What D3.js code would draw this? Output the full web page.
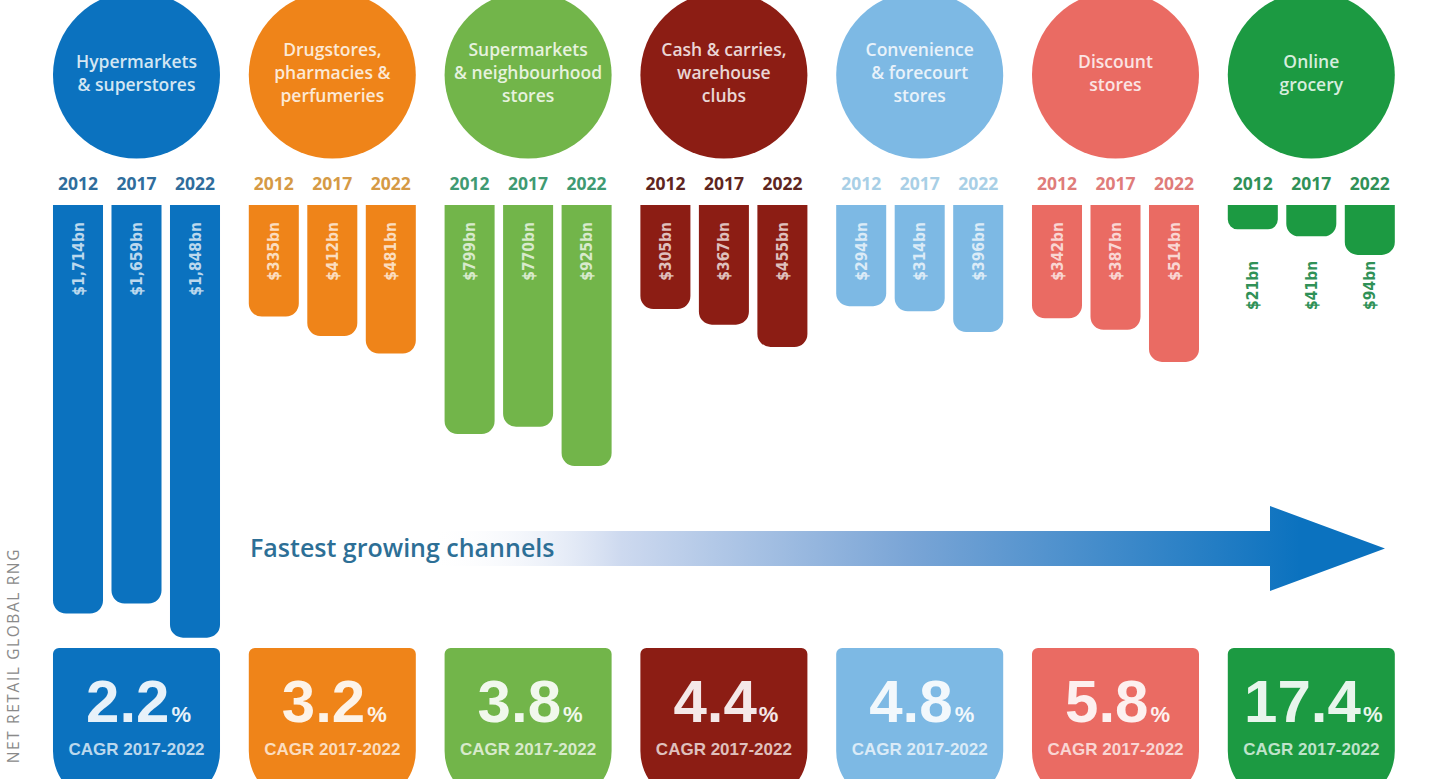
<!DOCTYPE html>
<html>
<head>
<meta charset="utf-8">
<script src="https://cdnjs.cloudflare.com/ajax/libs/d3/7.8.5/d3.min.js"></script>
<style>
  html, body { margin: 0; padding: 0; background: #fff; }
  svg { display: block; }
</style>
</head>
<body>
<div id="chart"></div>
<script>
// Channels and their sales (US$ bn) by year
const channels = ["Hypermarkets & superstores", "Drugstores, pharmacies & perfumeries",
  "Supermarkets & neighbourhood stores", "Cash & carries, warehouse clubs",
  "Convenience & forecourt stores", "Discount stores", "Online grocery"];
const channelLines = [
  ["Hypermarkets", "& superstores"],
  ["Drugstores,", "pharmacies &", "perfumeries"],
  ["Supermarkets", "& neighbourhood", "stores"],
  ["Cash & carries,", "warehouse", "clubs"],
  ["Convenience", "& forecourt", "stores"],
  ["Discount", "stores"],
  ["Online", "grocery"]
];
const years = ["2012", "2017", "2022"];
const sales2012 = [1714, 335, 799, 305, 294, 342, 21];
const sales2017 = [1659, 412, 770, 367, 314, 387, 41];
const sales2022 = [1848, 481, 925, 455, 396, 514, 94];
const cagr = ["2.2", "3.2", "3.8", "4.4", "4.8", "5.8", "17.4"];
const cagrLabel = "CAGR 2017-2022";

// Palette
const colors = ["#0b72bf", "#ef8419", "#72b54a", "#8c1d14", "#7db9e4", "#ea6b63", "#1c9a42"];
const yearColors = ["#2f6d9c", "#d59a45", "#3f9a72", "#5e2520", "#a8cfe6", "#df7c7a", "#2f9157"];

const width = 1440;
const height = 779;

const svg = d3.select("#chart")
  .append("svg")
  .attr("width", width)
  .attr("height", height);

// Group and year scales
const xGroup = d3.scaleBand()
  .domain(channels)
  .range([38.6, 1409.2])
  .paddingInner(0.147)
  .paddingOuter(0.0735);
const xYear = d3.scaleBand()
  .domain(years)
  .range([0, xGroup.bandwidth()])
  .paddingInner(0.145);

// Bars hang down from a baseline; the original is not drawn to a single linear scale
const barTop = 205;
const yScale = d3.scaleLinear()
  .domain([0, 20, 100, 1000, 2000])
  .range([0, 24, 52, 280, 460]);

const tint = (c, t) => d3.interpolateRgb(c, "#ffffff")(t);
const fmt = v => "$" + d3.format(",")(v) + "bn";

const rows = channels.map((c, i) => ({
  channel: c,
  i: i,
  values: [sales2012[i], sales2017[i], sales2022[i]]
}));

// Bar with flat top and rounded bottom corners
function barPath(x, y, w, h, r) {
  r = Math.min(r, h / 2.5, w / 2);
  const p = d3.path();
  p.moveTo(x, y);
  p.lineTo(x + w, y);
  p.lineTo(x + w, y + h - r);
  p.arcTo(x + w, y + h, x + w - r, y + h, r);
  p.lineTo(x + r, y + h);
  p.arcTo(x, y + h, x, y + h - r, r);
  p.closePath();
  return p.toString();
}

// Shield-shaped CAGR box
function boxPath(x, y, w, h, rt, rb) {
  const p = d3.path();
  p.moveTo(x + rt, y);
  p.lineTo(x + w - rt, y);
  p.arcTo(x + w, y, x + w, y + rt, rt);
  p.lineTo(x + w, y + h - rb);
  p.arcTo(x + w, y + h, x + w - rb, y + h, rb);
  p.lineTo(x + rb, y + h);
  p.arcTo(x, y + h, x, y + h - rb, rb);
  p.lineTo(x, y + rt);
  p.arcTo(x, y, x + rt, y, rt);
  p.closePath();
  return p.toString();
}

const groups = svg.selectAll(".channel")
  .data(rows)
  .join("g")
  .attr("class", "channel")
  .attr("transform", d => `translate(${xGroup(d.channel)},0)`);

// Circles with channel names
const cx = xGroup.bandwidth() / 2;
groups.append("circle")
  .attr("cx", cx)
  .attr("cy", 75)
  .attr("r", xGroup.bandwidth() / 2)
  .attr("fill", d => colors[d.i]);

groups.each(function(d) {
  const lines = channelLines[d.i];
  const lh = 23;
  const y0 = 73 - (lines.length - 1) * lh / 2;
  d3.select(this).append("text")
    .attr("text-anchor", "middle")
    .attr("font-family", "Open Sans, sans-serif")
    .attr("font-weight", 600)
    .attr("font-size", 17.5)
    .attr("fill", tint(colors[d.i], 0.82))
    .selectAll("tspan")
    .data(lines)
    .join("tspan")
    .attr("x", cx)
    .attr("y", (l, k) => y0 + k * lh)
    .attr("dy", "0.35em")
    .text(l => l);
});

// Year labels
groups.selectAll(".year")
  .data(d => years.map(y => ({ year: y, i: d.i })))
  .join("text")
  .attr("class", "year")
  .attr("x", d => xYear(d.year) + xYear.bandwidth() / 2)
  .attr("y", 190)
  .attr("text-anchor", "middle")
  .attr("font-family", "Open Sans, sans-serif")
  .attr("font-weight", 700)
  .attr("font-size", 17.5)
  .attr("fill", d => yearColors[d.i])
  .text(d => d.year);

// Bars
const barData = d => d.values.map((v, k) => ({ v: v, year: years[k], i: d.i, maxV: d3.max(d.values) }));

groups.selectAll(".bar")
  .data(barData)
  .join("path")
  .attr("class", "bar")
  .attr("d", d => barPath(xYear(d.year), barTop, xYear.bandwidth(), yScale(d.v), 13))
  .attr("fill", d => colors[d.i]);

// Value labels, rotated; inside tall bars, below short ones
groups.selectAll(".val")
  .data(barData)
  .join("text")
  .attr("class", "val")
  .attr("transform", d => {
    const x = xYear(d.year) + xYear.bandwidth() / 2;
    const inside = yScale(d.maxV) > 80;
    const y = inside ? barTop + 17 : barTop + yScale(d.maxV) + 6;
    return `translate(${x},${y}) rotate(-90)`;
  })
  .attr("dy", "0.36em")
  .attr("text-anchor", "end")
  .attr("font-family", "DejaVu Sans Condensed, sans-serif")
  .attr("font-weight", 700)
  .attr("font-size", 15.5)
  .attr("fill", d => yScale(d.maxV) > 80 ? tint(colors[d.i], 0.72) : yearColors[d.i])
  .text(d => fmt(d.v));

// Fastest growing channels arrow
const defs = svg.append("defs");
const grad = defs.append("linearGradient")
  .attr("id", "arrowGrad")
  .attr("gradientUnits", "userSpaceOnUse")
  .attr("x1", 430).attr("x2", 1300)
  .attr("y1", 0).attr("y2", 0);
grad.append("stop").attr("offset", "0%").attr("stop-color", "#ffffff").attr("stop-opacity", 0);
grad.append("stop").attr("offset", "22%").attr("stop-color", "#cdd9ef");
grad.append("stop").attr("offset", "55%").attr("stop-color", "#7aa5d6");
grad.append("stop").attr("offset", "100%").attr("stop-color", "#0b72bf");

const arrow = d3.path();
arrow.moveTo(430, 531);
arrow.lineTo(1270, 531);
arrow.lineTo(1270, 506);
arrow.lineTo(1385, 548.5);
arrow.lineTo(1270, 591);
arrow.lineTo(1270, 566);
arrow.lineTo(430, 566);
arrow.closePath();
svg.append("path")
  .attr("d", arrow.toString())
  .attr("fill", "url(#arrowGrad)");

svg.append("text")
  .attr("x", 250)
  .attr("y", 557)
  .attr("font-family", "Open Sans, sans-serif")
  .attr("font-weight", 600)
  .attr("font-size", 25)
  .attr("fill", "#2d6f96")
  .text("Fastest growing channels");

// CAGR boxes
groups.append("path")
  .attr("d", boxPath(0, 648, xGroup.bandwidth(), 155, 6, 52))
  .attr("fill", d => colors[d.i]);

const num = groups.append("text")
  .attr("x", cx + 2)
  .attr("y", 722)
  .attr("text-anchor", "middle")
  .attr("font-family", "Liberation Sans Narrow, sans-serif")
  .attr("font-weight", 700)
  .attr("fill", d => tint(colors[d.i], 0.9));
num.append("tspan")
  .attr("font-size", 60)
  .text(d => cagr[d.i]);
num.append("tspan")
  .attr("font-size", 22)
  .attr("dx", 2)
  .text("%");

groups.append("text")
  .attr("x", cx)
  .attr("y", 755)
  .attr("text-anchor", "middle")
  .attr("font-family", "Liberation Sans Narrow, sans-serif")
  .attr("font-weight", 700)
  .attr("font-size", 17)
  .attr("fill", d => tint(colors[d.i], 0.72))
  .text(cagrLabel);

// Source, rotated along the left edge
svg.append("text")
  .attr("transform", "translate(19,548) rotate(-90)")
  .attr("text-anchor", "end")
  .attr("font-family", "Open Sans, sans-serif")
  .attr("font-size", 15.5)
  .attr("letter-spacing", 1.6)
  .attr("fill", "#8a8a8a")
  .text("NET RETAIL GLOBAL RNG");
</script>
</body>
</html>
